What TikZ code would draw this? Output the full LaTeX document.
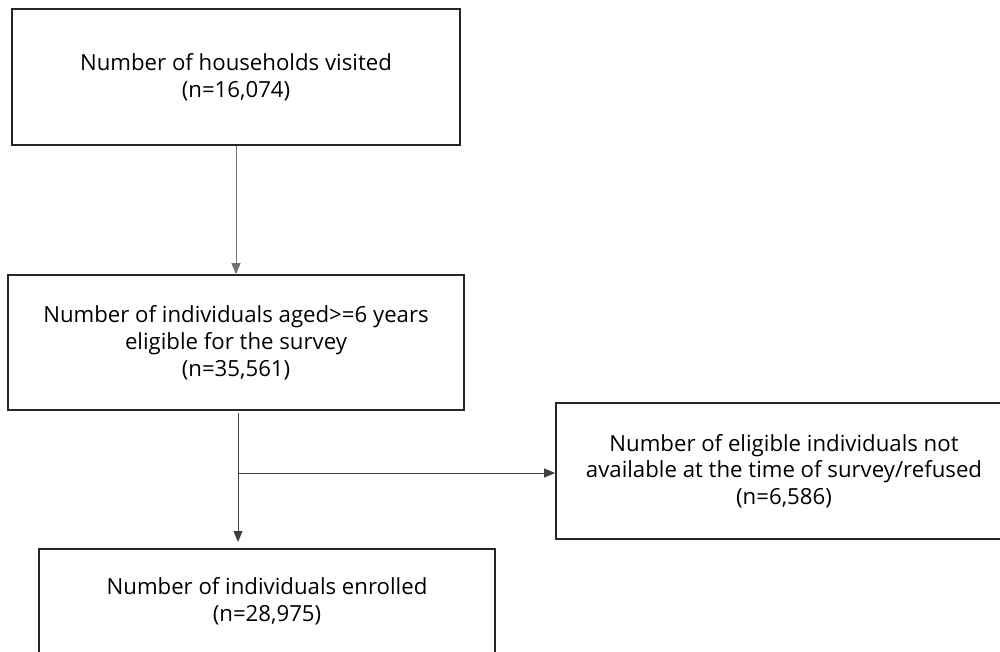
\documentclass[tikz,border=0pt]{standalone}
\usepackage{fontspec}
\setmainfont{Open Sans}
\usetikzlibrary{arrows.meta}
\begin{document}
\begin{tikzpicture}[x=1pt,y=-1pt,
  box/.style={draw=black!85, line width=1.6pt, inner sep=0pt, align=center,
    minimum width=456pt, minimum height=136pt,
    font=\fontsize{22.2}{27}\selectfont},
  conn/.style={line width=1pt, draw=black!75, -{Triangle[length=11pt,width=9pt]}},
  link/.style={line width=1pt, draw=black!75}]
\useasboundingbox (0,0) rectangle (1000,652);
\node[box, minimum width=448pt] (hh) at (236,77) {Number of households visited\\(n=16,074)};
\node[box, minimum height=135pt] (elig) at (236,342.5) {Number of individuals aged>=6 years\\eligible for the survey\\(n=35,561)};
\node[box, font=\fontsize{22.2}{26.3}\selectfont] (excl) at (784,471) {Number of eligible individuals not\\available at the time of survey/refused\\(n=6,586)};
\node[box, minimum height=104pt] (enr) at (267,601) {Number of individuals enrolled\\(n=28,975)};
\coordinate (s) at (238,413);
\coordinate (b) at (238,473);
\coordinate (t) at (238,542);
\draw[conn, draw=black!55] (hh.south) -- (elig.north);
\draw[link] (s) -- (b);
\draw[conn] (b) -- (t);
\draw[conn] (b) -- (excl.west |- b);
\end{tikzpicture}
\end{document}
